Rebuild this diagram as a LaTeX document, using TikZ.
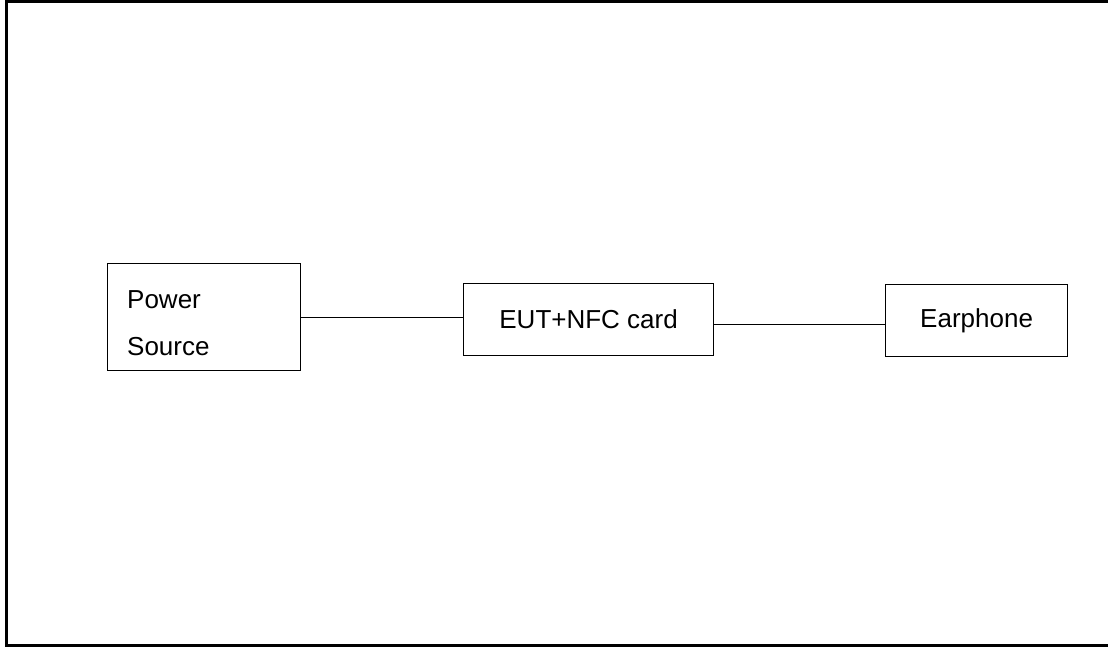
\documentclass[tikz,border=0pt]{standalone}
\usepackage{fontspec}
\setmainfont{Liberation Sans}
\begin{document}
\begin{tikzpicture}[x=1pt,y=-1pt,
  box/.style={draw, line width=1.2pt, inner sep=0pt, anchor=north west},
  lbl/.style={font=\fontsize{26}{47}\selectfont},
  wire/.style={line width=1.2pt}]
\useasboundingbox (0,0) rectangle (1108,647);
% frame (no right edge)
\draw[line width=2.6pt] (1108,1.3) -- (6.3,1.3) -- (6.3,645.7) -- (1108,645.7);
% boxes
\node[box, minimum width=193pt, minimum height=107pt] (ps) at (107,263) {};
\node[lbl, align=left, anchor=base west, inner sep=0pt] (pst) at (127,355) {Power\\Source};
\node[box, minimum width=250pt, minimum height=72pt] (eut) at (463,283) {};
\node[lbl] (eutt) at (eut.center) {EUT+NFC card};
\node[box, minimum width=182pt, minimum height=72pt] (ear) at (885,284) {};
\node[lbl] (eart) at (ear.center) {Earphone};
% connectors
\draw[wire] (ps.east) -- (ps.east -| eut.west);
\coordinate (c2) at ([yshift=-4.5pt]eut.east);
\draw[wire] (c2) -- (c2 -| ear.west);
\end{tikzpicture}
\end{document}
